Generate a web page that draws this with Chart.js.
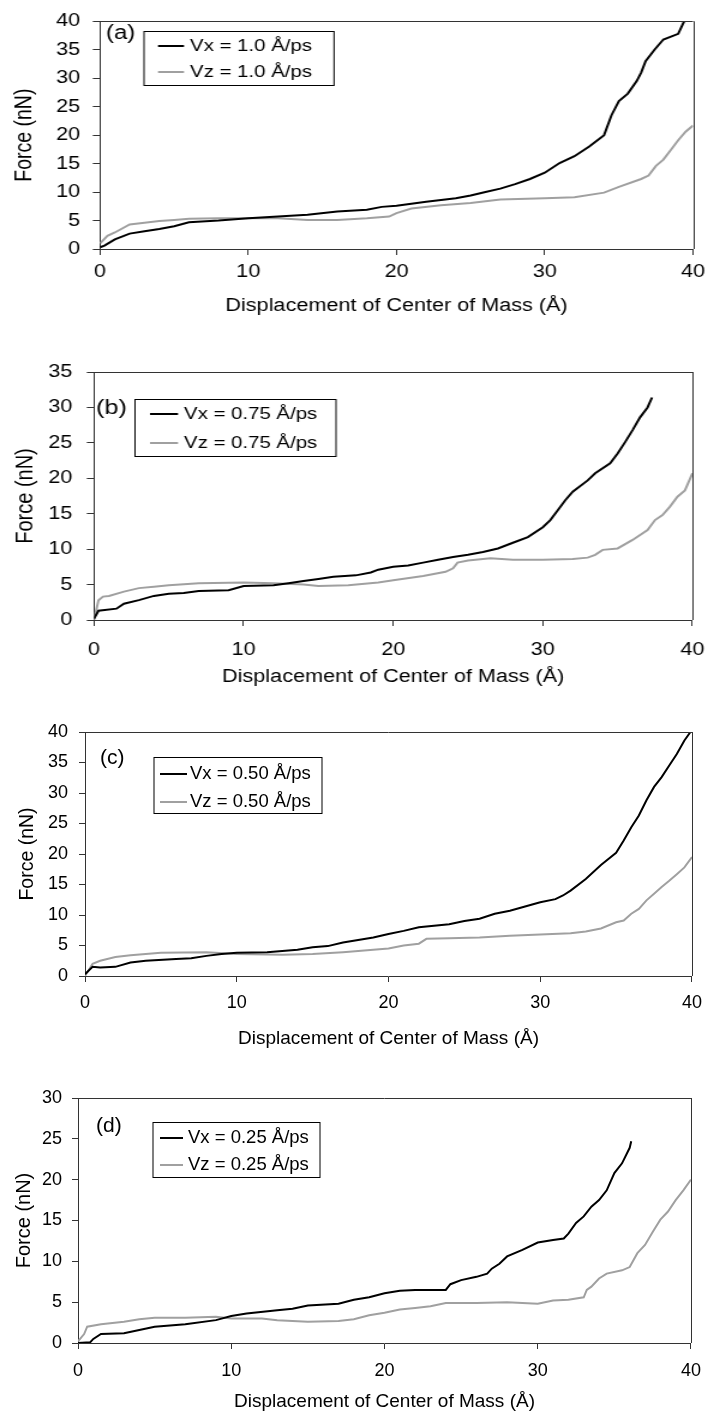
<!DOCTYPE html>
<html>
<head>
<meta charset="utf-8">
<script src="https://cdn.jsdelivr.net/npm/chart.js@4.4.0/dist/chart.umd.min.js"></script>
<style>
  html, body { margin: 0; padding: 0; background: #fff; width: 712px; height: 1418px; overflow: hidden; position: relative; }
  .panel { position: absolute; left: 0; transform-origin: 0 0; }
</style>
</head>
<body>
<div class="panel" id="wrapA"><canvas id="chartA"></canvas></div>
<div class="panel" id="wrapB"><canvas id="chartB"></canvas></div>
<div class="panel" id="wrapC"><canvas id="chartC"></canvas></div>
<div class="panel" id="wrapD"><canvas id="chartD"></canvas></div>
<script>
// Axis setup
const xTicks = [0, 10, 20, 30, 40];
const yMaxes = [40, 35, 40, 30];
const panelTags = ["(a)", "(b)", "(c)", "(d)"];
const vxLabels = ["Vx = 1.0 Å/ps", "Vx = 0.75 Å/ps", "Vx = 0.50 Å/ps", "Vx = 0.25 Å/ps"];
const vzLabels = ["Vz = 1.0 Å/ps", "Vz = 0.75 Å/ps", "Vz = 0.50 Å/ps", "Vz = 0.25 Å/ps"];

// (a) 1.0 A/ps
const aVxX = [0, 0.3, 1, 2, 3, 4, 5, 6, 8, 10, 12, 14, 16, 18, 19, 20, 22, 24, 25, 26, 27, 28, 29, 30, 31, 32, 33, 34, 34.5, 35, 35.6, 36.2, 36.5, 36.8, 37.4, 38, 39, 39.4];
const aVxY = [0.3, 0.6, 1.7, 2.7, 3.1, 3.5, 4.0, 4.7, 5.0, 5.4, 5.7, 6.0, 6.6, 6.9, 7.4, 7.6, 8.3, 8.9, 9.4, 10.0, 10.6, 11.4, 12.3, 13.4, 15.1, 16.3, 18.0, 20.0, 23.5, 26.0, 27.3, 29.5, 31.0, 33.0, 35.0, 36.8, 37.8, 40.0];
const aVzX = [0, 0.5, 1, 2, 3, 4, 5, 6, 8, 10, 12, 14, 16, 18, 19.5, 20, 21, 23, 25, 27, 30, 32, 34, 35, 36.5, 37, 37.5, 38, 38.5, 39, 39.5, 40];
const aVzY = [1.0, 2.3, 2.9, 4.3, 4.6, 4.9, 5.1, 5.3, 5.4, 5.4, 5.4, 5.1, 5.1, 5.4, 5.7, 6.3, 7.1, 7.7, 8.1, 8.7, 8.9, 9.1, 9.9, 10.9, 12.3, 12.9, 14.6, 15.7, 17.4, 19.1, 20.6, 21.7];

// (b) 0.75 A/ps
const bVxX = [0, 0.3, 1.5, 2, 3, 4, 5, 6, 7, 9, 10, 12, 13, 14, 15, 16, 17.5, 18.5, 19, 20, 21, 22, 23, 24, 25, 26, 27, 28, 29, 30, 30.5, 31, 31.5, 32, 33, 33.5, 34.5, 35, 35.5, 36, 36.5, 37, 37.3];
const bVxY = [0.2, 1.3, 1.6, 2.3, 2.8, 3.4, 3.7, 3.8, 4.1, 4.2, 4.8, 4.9, 5.2, 5.5, 5.8, 6.1, 6.3, 6.7, 7.1, 7.5, 7.7, 8.1, 8.5, 8.9, 9.2, 9.6, 10.1, 10.9, 11.7, 13.1, 14.1, 15.5, 16.9, 18.1, 19.7, 20.7, 22.1, 23.5, 25.1, 26.8, 28.6, 30.0, 31.4];
const bVzX = [0, 0.3, 0.6, 1, 2, 3, 4, 5, 7, 10, 12, 14, 15, 17, 19, 20, 22, 23.5, 24, 24.3, 25, 26.5, 28, 30, 32, 33, 33.5, 34, 35, 36, 37, 37.5, 38, 38.5, 39, 39.5, 40];
const bVzY = [0, 2.8, 3.3, 3.4, 4.0, 4.5, 4.7, 4.9, 5.2, 5.3, 5.2, 5.0, 4.8, 4.9, 5.3, 5.6, 6.2, 6.8, 7.3, 8.1, 8.4, 8.7, 8.5, 8.5, 8.6, 8.8, 9.2, 9.9, 10.1, 11.3, 12.7, 14.1, 14.8, 16.0, 17.4, 18.3, 20.7];

// (c) 0.50 A/ps
const cVxX = [0, 0.5, 1, 2, 3, 4, 6, 7, 8, 9, 10, 12, 14, 15, 16, 17, 18, 19, 20, 21, 22, 24, 25, 26, 27, 28, 29, 30, 31, 31.5, 32, 33, 34, 35, 35.5, 36, 36.5, 37, 37.5, 38, 38.5, 39, 39.5, 39.9];
const cVxY = [0.3, 1.5, 1.4, 1.5, 2.2, 2.5, 2.8, 2.9, 3.3, 3.6, 3.8, 3.9, 4.3, 4.7, 4.9, 5.5, 5.9, 6.3, 6.9, 7.4, 8.0, 8.5, 9.0, 9.4, 10.2, 10.7, 11.4, 12.1, 12.6, 13.2, 14.0, 15.9, 18.2, 20.2, 22.2, 24.4, 26.3, 28.8, 31.0, 32.6, 34.5, 36.4, 38.6, 40.0];
const cVzX = [0, 0.5, 1, 2, 3, 5, 8, 10, 13, 15, 17, 19, 20, 21, 22, 22.5, 24, 26, 28, 30, 32, 33, 34, 35, 35.5, 36, 36.5, 37, 37.5, 38, 38.5, 39, 39.5, 40];
const cVzY = [0, 2.0, 2.5, 3.1, 3.4, 3.8, 3.9, 3.6, 3.5, 3.6, 3.9, 4.3, 4.5, 5.0, 5.3, 6.1, 6.2, 6.3, 6.6, 6.8, 7.0, 7.3, 7.8, 8.8, 9.1, 10.2, 11.0, 12.4, 13.5, 14.6, 15.6, 16.7, 17.8, 19.5];

// (d) 0.25 A/ps
const dVxX = [0, 0.8, 1, 1.5, 3, 4, 5, 7, 9, 10, 11, 13, 14, 15, 17, 18, 19, 20, 21, 22, 24, 24.3, 25, 26, 26.7, 27, 27.5, 28, 29, 30, 31, 31.7, 32, 32.5, 33, 33.5, 34, 34.5, 35, 35.5, 36, 36.1];
const dVxY = [0, 0.1, 0.5, 1.1, 1.2, 1.6, 2.0, 2.3, 2.8, 3.3, 3.6, 4.0, 4.2, 4.6, 4.8, 5.3, 5.6, 6.1, 6.4, 6.5, 6.5, 7.2, 7.7, 8.1, 8.5, 9.1, 9.7, 10.6, 11.4, 12.3, 12.6, 12.8, 13.4, 14.7, 15.5, 16.7, 17.5, 18.7, 20.8, 22.0, 23.9, 24.7];
const dVzX = [0, 0.4, 0.6, 1.5, 3, 4, 5, 7, 9, 10, 12, 13, 15, 17, 18, 19, 20, 21, 22, 23, 24, 26, 28, 30, 31, 32, 33, 33.2, 33.5, 34, 34.5, 35.5, 36, 36.5, 37, 37.5, 38, 38.5, 39, 39.5, 40];
const dVzY = [0.2, 1.1, 2.0, 2.3, 2.6, 2.9, 3.1, 3.1, 3.2, 3.0, 3.0, 2.8, 2.6, 2.7, 2.9, 3.4, 3.7, 4.1, 4.3, 4.5, 4.9, 4.9, 5.0, 4.8, 5.2, 5.3, 5.6, 6.5, 6.9, 7.9, 8.5, 8.9, 9.3, 11.0, 12.0, 13.6, 15.1, 16.1, 17.5, 18.7, 20.0];

const BLACK = "#000000";
const GRAY = "#a0a0a0";
const AXIS = "#333333";
Chart.defaults.font.family = '"Liberation Sans", Arial, sans-serif';
Chart.defaults.color = "#000";

// page layout, in page pixels (x is divided by sx for the stretched panels)
const panels = [
  { canvas: "chartA", wrap: "wrapA", top: 0, height: 322, sx: 1.2, width: 594,
    area: { l: 100, r: 693, t: 15, b: 249 }, vx: [aVxX, aVxY], vz: [aVzX, aVzY],
    tickFs: 18, titleFs: 18, yTitleFs: 19.5, xPad: 6, xTitlePb: 5, yPad: 10.5, yTitlePt: 9,
    legend: { l: 144, t: 31, r: 334, b: 85, y1: 46, y2: 72, s1: 158, s2: 184, tx: 190, fs: 17 },
    tag: { x: 106, y: 33, fs: 20 } },
  { canvas: "chartB", wrap: "wrapB", top: 322, height: 370, sx: 1.2, width: 600,
    area: { l: 94, r: 702, t: 372, b: 620 }, vx: [bVxX, bVxY], vz: [bVzX, bVzY],
    tickFs: 18, titleFs: 18, yTitleFs: 20, xPad: 13, xTitlePb: 4, yPad: 12, yTitlePt: 9,
    legend: { l: 135, t: 399, r: 336, b: 456, y1: 414, y2: 443, s1: 150, s2: 178, tx: 184, fs: 17 },
    tag: { x: 96, y: 408, fs: 21 } },
  { canvas: "chartC", wrap: "wrapC", top: 692, height: 360, sx: 1, width: 712,
    area: { l: 85, r: 693, t: 732, b: 976 }, vx: [cVxX, cVxY], vz: [cVzX, cVzY],
    tickFs: 18, titleFs: 19, yTitleFs: 19.5, xPad: 10, xTitlePb: 2, yPad: 11, yTitlePt: 16,
    legend: { l: 154, t: 757, r: 322, b: 813, y1: 774, y2: 802, s1: 160, s2: 187, tx: 190, fs: 18.5 },
    tag: { x: 100, y: 758, fs: 21 } },
  { canvas: "chartD", wrap: "wrapD", top: 1052, height: 366, sx: 1, width: 712,
    area: { l: 78, r: 699, t: 1098, b: 1343 }, vx: [dVxX, dVxY], vz: [dVzX, dVzY],
    tickFs: 18, titleFs: 19, yTitleFs: 20, xPad: 11, xTitlePb: 5, yPad: 10, yTitlePt: 12,
    legend: { l: 153, t: 1122, r: 320, b: 1177, y1: 1138, y2: 1165, s1: 160, s2: 183, tx: 188, fs: 18.5 },
    tag: { x: 96, y: 1126, fs: 21 } },
];

function toPoints(xs, ys) {
  return xs.map((x, i) => ({ x: x, y: ys[i] }));
}

// frame, legend box and panel letter
const decorPlugin = {
  id: "decor",
  afterDraw(chart, args, opts) {
    const p = opts.panel;
    const i = opts.index;
    const { ctx, chartArea: a } = chart;
    const X = (v) => v / p.sx;
    const Y = (v) => v - p.top;
    ctx.save();
    ctx.strokeStyle = AXIS;
    ctx.lineWidth = 1;
    ctx.beginPath();
    ctx.moveTo(a.left, Math.round(a.top) + 0.5);
    ctx.lineTo(a.right, Math.round(a.top) + 0.5);
    ctx.moveTo(Math.round(a.right) + 0.5, a.top);
    ctx.lineTo(Math.round(a.right) + 0.5, a.bottom);
    ctx.stroke();

    const lg = p.legend;
    ctx.fillStyle = "#fff";
    ctx.fillRect(X(lg.l), Y(lg.t), X(lg.r) - X(lg.l), lg.b - lg.t);
    ctx.strokeStyle = "#000";
    ctx.strokeRect(X(lg.l), Y(lg.t) + 0.5, X(lg.r) - X(lg.l), lg.b - lg.t);
    ctx.lineWidth = 2;
    ctx.strokeStyle = BLACK;
    ctx.beginPath();
    ctx.moveTo(X(lg.s1), Y(lg.y1));
    ctx.lineTo(X(lg.s2), Y(lg.y1));
    ctx.stroke();
    ctx.strokeStyle = GRAY;
    ctx.beginPath();
    ctx.moveTo(X(lg.s1), Y(lg.y2));
    ctx.lineTo(X(lg.s2), Y(lg.y2));
    ctx.stroke();
    ctx.fillStyle = "#000";
    ctx.textBaseline = "middle";
    ctx.textAlign = "left";
    ctx.font = lg.fs + 'px "Liberation Sans", Arial, sans-serif';
    ctx.fillText(chart.data.datasets[0].label, X(lg.tx), Y(lg.y1));
    ctx.fillText(chart.data.datasets[1].label, X(lg.tx), Y(lg.y2));

    ctx.font = p.tag.fs + 'px "Liberation Sans", Arial, sans-serif';
    ctx.fillText(panelTags[i], X(p.tag.x), Y(p.tag.y));
    ctx.restore();
  },
};

function createPanel(p, i) {
  const wrap = document.getElementById(p.wrap);
  wrap.style.top = p.top + "px";
  wrap.style.transform = "scaleX(" + p.sx + ")";
  const canvas = document.getElementById(p.canvas);
  canvas.width = p.width;
  canvas.height = p.height;

  const axisLeft = p.area.l / p.sx;
  const axisRight = p.area.r / p.sx;
  const xAxisHeight = p.height - (p.area.b - p.top);

  return new Chart(canvas.getContext("2d"), {
    type: "line",
    data: {
      datasets: [
        { label: vxLabels[i], data: toPoints(p.vx[0], p.vx[1]), borderColor: BLACK, borderWidth: 2, pointRadius: 0, tension: 0, fill: false },
        { label: vzLabels[i], data: toPoints(p.vz[0], p.vz[1]), borderColor: GRAY, borderWidth: 2, pointRadius: 0, tension: 0, fill: false },
      ],
    },
    options: {
      responsive: false,
      animation: false,
      devicePixelRatio: 1,
      layout: { padding: { left: 0, top: p.area.t - p.top, right: p.width - axisRight, bottom: 0 } },
      plugins: {
        legend: { display: false },
        tooltip: { enabled: false },
        decor: { panel: p, index: i },
      },
      scales: {
        x: {
          type: "linear",
          min: xTicks[0],
          max: xTicks[xTicks.length - 1],
          afterBuildTicks: (s) => { s.ticks = xTicks.map((v) => ({ value: v })); },
          ticks: { padding: p.xPad, maxRotation: 0, font: { size: p.tickFs }, color: "#000" },
          grid: { drawOnChartArea: false, tickLength: 6, color: AXIS },
          border: { color: AXIS },
          title: { display: true, text: "Displacement of Center of Mass (Å)", font: { size: p.titleFs }, color: "#000", padding: { top: 0, bottom: p.xTitlePb } },
          afterFit: (s) => { s.height = xAxisHeight; },
        },
        y: {
          type: "linear",
          min: 0,
          max: yMaxes[i],
          ticks: { stepSize: 5, padding: p.yPad, font: { size: p.tickFs }, color: "#000" },
          grid: { drawOnChartArea: false, tickLength: 6, color: AXIS },
          border: { color: AXIS },
          title: { display: true, text: "Force (nN)", font: { size: p.yTitleFs }, color: "#000", padding: { top: p.yTitlePt, bottom: 0 } },
          afterFit: (s) => { s.width = axisLeft; },
        },
      },
    },
    plugins: [decorPlugin],
  });
}

const charts = panels.map((p, i) => createPanel(p, i));
</script>
</body>
</html>
